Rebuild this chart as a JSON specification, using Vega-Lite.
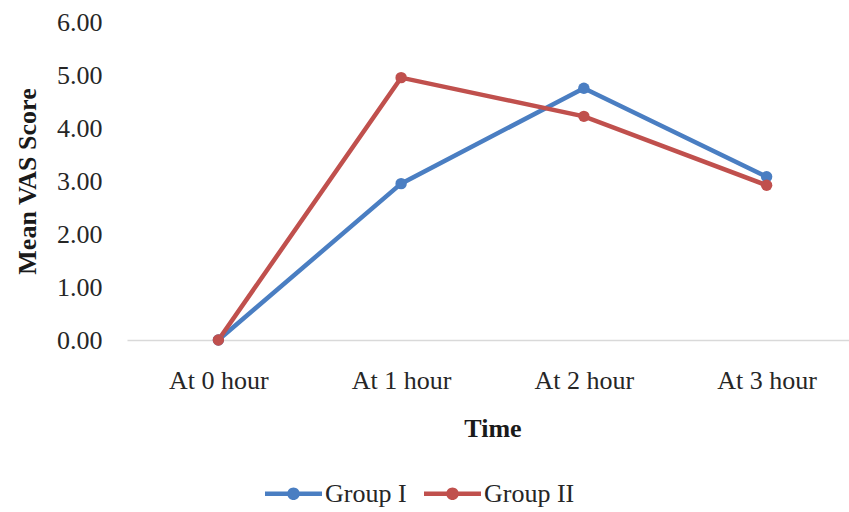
{
  "$schema": "https://vega.github.io/schema/vega-lite/v6.json",
  "width": 722,
  "height": 318,
  "autosize": "none",
  "padding": {"left": 127, "top": 22, "right": 0, "bottom": 172},
  "background": "white",
  "config": {
    "view": {"stroke": null},
    "font": "Liberation Serif",
    "axis": {"labelFont": "Liberation Serif", "titleFont": "Liberation Serif", "labelColor": "#262626", "titleColor": "#1a1a1a"}
  },
  "data": {
    "values": [
      {"time": "At 0 hour", "group": "Group I", "score": 0.0},
      {"time": "At 1 hour", "group": "Group I", "score": 2.95},
      {"time": "At 2 hour", "group": "Group I", "score": 4.75},
      {"time": "At 3 hour", "group": "Group I", "score": 3.08},
      {"time": "At 0 hour", "group": "Group II", "score": 0.0},
      {"time": "At 1 hour", "group": "Group II", "score": 4.95},
      {"time": "At 2 hour", "group": "Group II", "score": 4.22},
      {"time": "At 3 hour", "group": "Group II", "score": 2.92}
    ]
  },
  "encoding": {
    "x": {
      "field": "time", "type": "ordinal", "sort": null,
      "scale": {"type": "point", "range": [0, 731], "padding": 0.5},
      "axis": {
        "title": "Time", "titleFontSize": 26, "titleFontWeight": "bold", "titlePadding": 22,
        "labelAngle": 0, "labelFontSize": 26, "labelPadding": 27,
        "ticks": false, "domainColor": "#d9d9d9", "domainWidth": 1.5, "grid": false
      }
    },
    "y": {
      "field": "score", "type": "quantitative",
      "scale": {"domain": [0, 6]},
      "axis": {
        "title": "Mean VAS Score", "titleFontSize": 26, "titleFontWeight": "bold", "titlePadding": 16,
        "values": [0, 1, 2, 3, 4, 5, 6], "format": ".2f",
        "labelFontSize": 26, "labelPadding": 25,
        "ticks": false, "domain": false, "grid": false
      }
    },
    "color": {
      "field": "group", "type": "nominal",
      "scale": {"domain": ["Group I", "Group II"], "range": ["#4A7EC2", "#C0504D"]},
      "legend": {
        "title": null, "orient": "none", "direction": "horizontal",
        "legendX": 138, "legendY": 443,
        "labelFontSize": 26, "labelFont": "Liberation Serif", "labelColor": "#262626",
        "symbolType": "M -1 -0.075 L 1 -0.075 L 1 0.075 L -1 0.075 Z M 0.22 0 A 0.22 0.22 0 1 1 -0.22 0 A 0.22 0.22 0 1 1 0.22 0 Z",
        "symbolSize": 3249, "symbolStrokeWidth": 0, "symbolOpacity": 1,
        "labelOffset": 3, "columnPadding": 17
      }
    }
  },
  "layer": [
    {"mark": {"type": "line", "strokeWidth": 4.5}},
    {"mark": {"type": "point", "filled": true, "size": 130, "opacity": 1}}
  ]
}
